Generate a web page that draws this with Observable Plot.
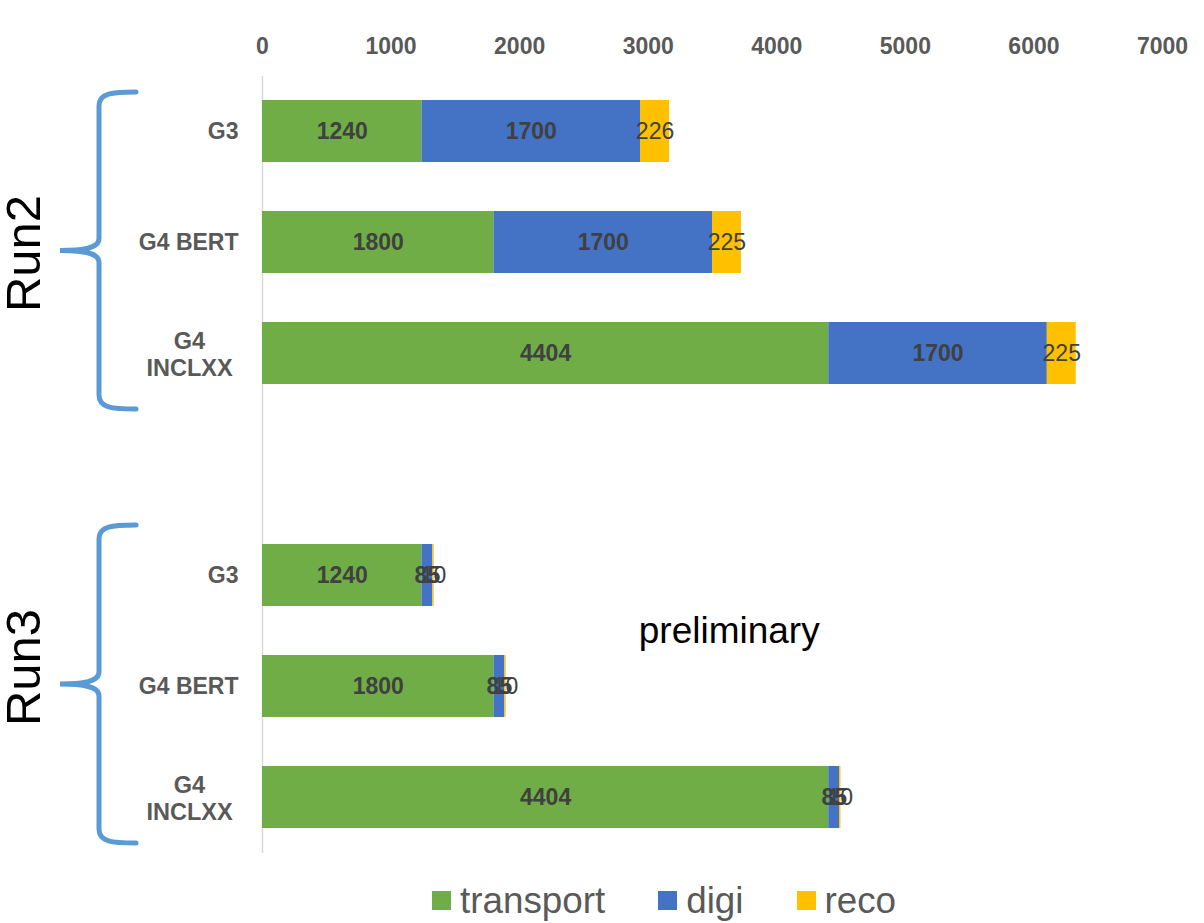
<!DOCTYPE html>
<html>
<head>
<meta charset="utf-8">
<script src="https://cdn.jsdelivr.net/npm/d3@7"></script>
<script src="https://cdn.jsdelivr.net/npm/@observablehq/plot@0.6"></script>
<style>
  html, body { margin: 0; padding: 0; background: #fff; }
  body { width: 1204px; height: 923px; overflow: hidden; font-family: "Liberation Sans", Arial, sans-serif; }
  #legend { height: 53px; display: flex; align-items: center; padding-left: 432px; padding-top: 8px; box-sizing: border-box; }
  .item { display: flex; align-items: center; font-size: 36.8px; color: #595959; }
  .sw { width: 19px; height: 19px; margin-right: 9px; }
</style>
</head>
<body>
<div id="chart"></div>
<div id="legend"></div>
<script>
// Simulation chain timing per configuration
const runs = ["Run2", "Run3"];
const configs = ["G3", "G4 BERT", "G4 INCLXX"];
const stages = ["transport", "digi", "reco"];
const stageColors = ["#70AD47", "#4472C4", "#FFC000"];
const transport = [1240, 1800, 4404, 1240, 1800, 4404];
const digi = [1700, 1700, 1700, 85, 85, 85];
const reco = [226, 225, 225, 10, 10, 10];
const xTicks = [0, 1000, 2000, 3000, 4000, 5000, 6000, 7000];

// Category keys, with an empty slot separating the two runs
const keys = [];
runs.forEach((r, i) => {
  if (i > 0) keys.push("gap");
  configs.forEach(c => keys.push(r + "|" + c));
});

const rows = [];
runs.forEach((r, ri) => {
  configs.forEach((c, ci) => {
    const i = ri * configs.length + ci;
    const vals = [transport[i], digi[i], reco[i]];
    stages.forEach((s, si) => rows.push({key: r + "|" + c, stage: s, value: vals[si]}));
  });
});

const font = "Liberation Sans, Arial, sans-serif";
const singleKeys = keys.filter(k => k !== "gap" && !k.endsWith("INCLXX"));
const multiKeys = keys.filter(k => k.endsWith("INCLXX"));

const plot = Plot.plot({
  width: 1204,
  height: 870,
  marginLeft: 262,
  marginRight: 42,
  marginTop: 76,
  marginBottom: 17,
  style: {fontFamily: font, background: "#fff"},
  x: {domain: [0, 7000], axis: null, label: null},
  y: {domain: keys, paddingInner: 0.44, paddingOuter: 0.22, axis: null, label: null},
  color: {domain: stages, range: stageColors},
  marks: [
    Plot.ruleX([0], {stroke: "#d9d9d9", strokeWidth: 1.5}),
    Plot.barX(rows, {x: "value", y: "key", fill: "stage"}),
    Plot.text(rows, Plot.stackX({
      x: "value", y: "key", z: "stage",
      text: d => d.stage === "reco" ? "" : String(d.value),
      fontSize: 23, fontWeight: "bold", fill: "#404040"
    })),
    Plot.text(rows, Plot.stackX({
      x: "value", y: "key", z: "stage",
      text: d => d.stage === "reco" ? String(d.value) : "",
      fontSize: 23, fill: "#404040"
    })),
    Plot.axisX({
      anchor: "top", ticks: xTicks, tickSize: 0, tickPadding: 23, label: null,
      tickFormat: d => String(d), fontSize: 23, fontWeight: "bold", fill: "#595959"
    }),
    Plot.axisY({
      ticks: singleKeys, tickSize: 0, tickPadding: 24, textAnchor: "end", label: null,
      tickFormat: d => d.split("|")[1], fontSize: 23, fontWeight: "bold", fill: "#595959"
    }),
    Plot.axisY({
      ticks: multiKeys, tickSize: 0, tickPadding: 73, textAnchor: "middle", label: null,
      tickFormat: d => d.split("|")[1].replace(" ", "\n"), lineHeight: 1.17,
      fontSize: 23.5, fontWeight: "bold", fill: "#595959"
    }),
    Plot.text(["Run2"], {
      y: () => "Run2|G4 BERT", text: d => d, frameAnchor: "left", textAnchor: "middle",
      dx: -238, dy: 11, rotate: -90, fontSize: 49, fill: "#000"
    }),
    Plot.text(["Run3"], {
      y: () => "Run3|G4 BERT", text: d => d, frameAnchor: "left", textAnchor: "middle",
      dx: -238, dy: -19, rotate: -90, fontSize: 49, fill: "#000"
    }),
    Plot.text(["preliminary"], {
      x: () => 3630, y: () => "Run3|G3", text: d => d, dy: 56,
      fontSize: 37, fill: "#000"
    })
  ]
});

// Curly braces grouping each run's configurations
const ys = plot.scale("y");
const center = k => ys.apply(k) + ys.bandwidth / 2;
const braceReach = {Run2: [39, 56], Run3: [50, 46]};
const svg = d3.select(plot);
runs.forEach(r => {
  const top = center(r + "|" + configs[0]) - braceReach[r][0];
  const bottom = center(r + "|" + configs[2]) + braceReach[r][1];
  const mid = (top + bottom) / 2;
  const xv = 99, xe = 136, xc = 60;
  const p = d3.path();
  p.moveTo(xe, top);
  p.bezierCurveTo(112, top, xv, top + 1, xv, top + 14);
  p.lineTo(xv, mid - 12);
  p.bezierCurveTo(xv, mid - 2, 82, mid, xc, mid);
  p.bezierCurveTo(82, mid, xv, mid + 2, xv, mid + 12);
  p.lineTo(xv, bottom - 14);
  p.bezierCurveTo(xv, bottom - 1, 112, bottom, xe, bottom);
  svg.append("path").attr("d", p.toString())
    .attr("fill", "none").attr("stroke", "#5B9BD5")
    .attr("stroke-width", 5).attr("stroke-linecap", "round");
});

document.getElementById("chart").appendChild(plot);

// Legend
const legend = document.getElementById("legend");
const gaps = [53, 53, 0];
stages.forEach((s, i) => {
  const item = document.createElement("div");
  item.className = "item";
  item.style.marginRight = gaps[i] + "px";
  const sw = document.createElement("div");
  sw.className = "sw";
  sw.style.background = stageColors[i];
  const label = document.createElement("span");
  label.textContent = s;
  item.appendChild(sw);
  item.appendChild(label);
  legend.appendChild(item);
});
</script>
</body>
</html>
